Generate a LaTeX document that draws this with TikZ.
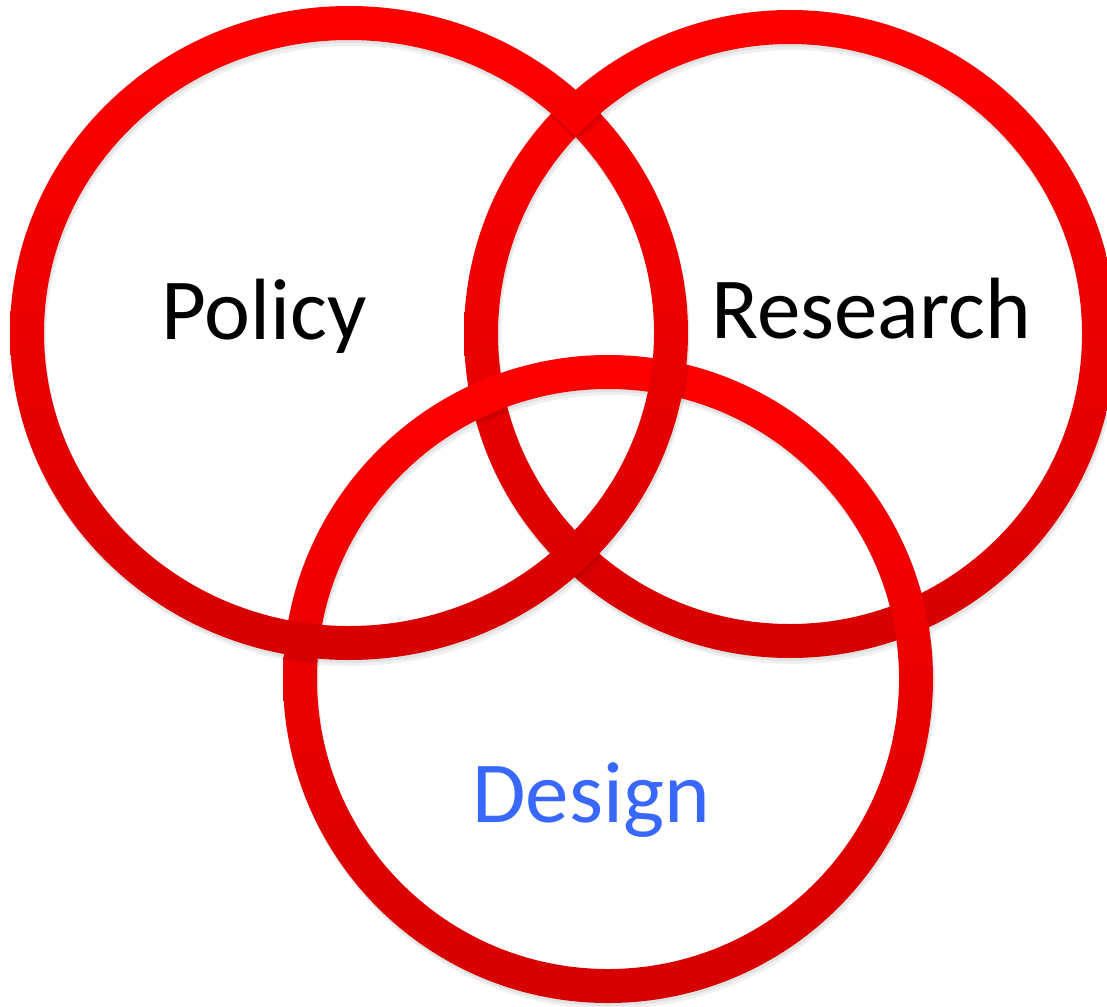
\documentclass[tikz,border=0pt]{standalone}
\usepackage{fontspec}
\setmainfont{Carlito}
\definecolor{ringtop}{RGB}{255,0,0}
\definecolor{ringbottom}{RGB}{214,0,0}
\definecolor{designblue}{RGB}{56,104,255}
% ring of half width 17 round the centre line (cx,cy), radii rx, ry
\newcommand{\ringpath}[4]{(#1,#2) ellipse [x radius=#3+17, y radius=#4+17] (#1,#2) ellipse [x radius=#3-17, y radius=#4-17]}
\newcommand{\venring}[4]{%
  \fill[ringshadow, shift={(1,3)}] \ringpath{#1}{#2}{#3}{#4};
  \fill[ringshadow, shift={(2,6)}] \ringpath{#1}{#2}{#3}{#4};
  \shade[ringfill] \ringpath{#1}{#2}{#3}{#4};}
\begin{document}
\begin{tikzpicture}[x=1pt, y=-1pt,
  ringfill/.style={even odd rule, top color=ringtop, bottom color=ringbottom},
  ringshadow/.style={even odd rule, fill=black, opacity=0.06},
  settext/.style={font=\fontsize{87}{104}\selectfont, anchor=base, inner sep=0pt}]
\useasboundingbox (0,0) rectangle (1107,1006);

\venring{790}{334}{309}{307} % research
\venring{608}{679}{308}{307} % design
\venring{349}{333}{322}{310} % policy

% research passes over policy at the top crossing
\begin{scope}[even odd rule]
  \clip (460,0) rectangle (700,230);
  \clip \ringpath{349}{333}{322}{310};
  \venring{790}{334}{309}{307}
\end{scope}

\node[settext] (policy) at (264,339) {Policy};
\node[settext] (research) at (871,338) {Research};
\node[settext, text=designblue] (design) at (591,822) {Design};
\end{tikzpicture}
\end{document}
